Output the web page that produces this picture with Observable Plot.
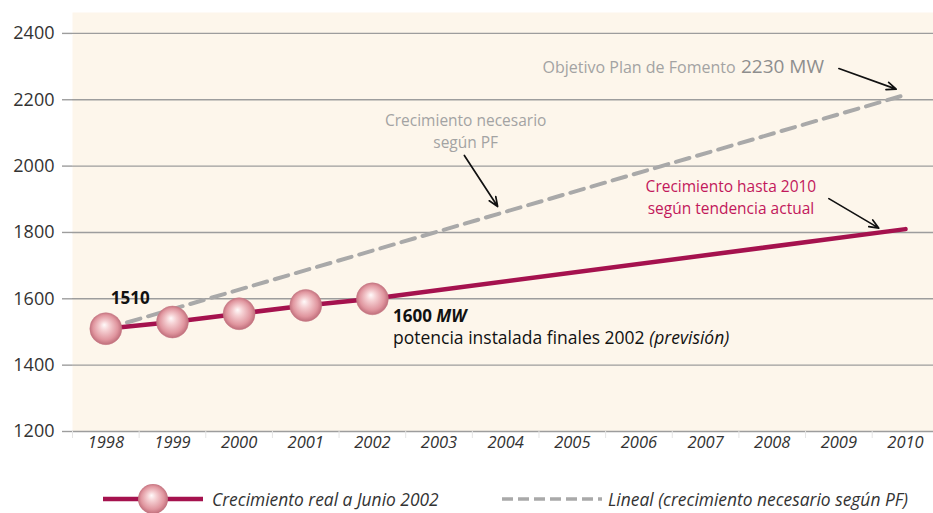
<!DOCTYPE html>
<html>
<head>
<meta charset="utf-8">
<script src="https://cdn.jsdelivr.net/npm/d3@7"></script>
<script src="https://cdn.jsdelivr.net/npm/@observablehq/plot@0.6"></script>
<style>
  html, body { margin: 0; padding: 0; background: #fff; }
  body { font-family: "Open Sans", sans-serif; width: 933px; overflow: hidden; }
  #legend { position: relative; width: 933px; height: 43px; font-style: italic; font-size: 17.4px; color: #333; }
  #legend .item { position: absolute; top: 14px; display: flex; align-items: center; height: 30px; white-space: nowrap; }
  #legend svg { display: block; }
</style>
</head>
<body>
<div id="chart"></div>
<div id="legend"></div>
<script>
// ---- data ----
const years = [1998, 1999, 2000, 2001, 2002, 2003, 2004, 2005, 2006, 2007, 2008, 2009, 2010];
const yTicks = [1200, 1400, 1600, 1800, 2000, 2200, 2400];
const realYears = [1998, 1999, 2000, 2001, 2002];
const realValues = [1510, 1530, 1555, 1580, 1600];
const trendYears = [1998, 1999, 2000, 2001, 2002, 2010];
const trendValues = [1510, 1530, 1555, 1580, 1600, 1810];
const pfYears = [1998, 2010];
const pfValues = [1510, 2215];

const pinkColor = "#a5124e";
const grayDash = "#a9a9a9";

const real = realYears.map((x, i) => ({x, y: realValues[i]}));
const trend = trendYears.map((x, i) => ({x, y: trendValues[i]}));
const pf = pfYears.map((x, i) => ({x, y: pfValues[i]}));
const separators = years.slice(0, -1).map(y => y + 0.5).concat([1997.5]);

// annotations (positions in data units)
const grayNotes = [
  {x: 2003.4, y: 2135, text: "Crecimiento necesario"},
  {x: 2003.4, y: 2071, text: "según PF"}
];
const objetivoLabel = [{x: 2007.45, y: 2297, text: "Objetivo Plan de Fomento"}];
const objetivoValue = [{x: 2007.53, y: 2299, text: "2230 MW"}];
const pinkNotes = [
  {x: 2007.38, y: 1936, text: "Crecimiento hasta 2010"},
  {x: 2007.38, y: 1872, text: "según tendencia actual"}
];
const boldNotes = [
  {x: 1998.075, y: 1600, text: "1510"},
  {x: 2002.31, y: 1547, text: "1600 MW"}
];
const plainNotes = [{x: 2002.31, y: 1480, text: "potencia instalada finales 2002 (previsión)"}];
const arrows = [
  {x1: 2003.38, y1: 2032, x2: 2003.88, y2: 1878},
  {x1: 2009.0, y1: 2294, x2: 2009.86, y2: 2232},
  {x1: 2008.85, y1: 1902, x2: 2009.6, y2: 1813}
];

const chart = Plot.plot({
  width: 933,
  height: 470,
  marginLeft: 72,
  marginRight: 0,
  marginTop: 12,
  marginBottom: 39,
  style: {fontFamily: "'Open Sans', sans-serif", background: "transparent"},
  x: {domain: [1997.5, 2010.42]},
  y: {domain: [1200, 2463]},
  marks: [
    Plot.frame({fill: "#fdf6eb", stroke: null}),
    Plot.gridY(yTicks, {stroke: "#9d9d9d", strokeOpacity: 1, strokeWidth: 1.4}),
    Plot.axisY(yTicks, {tickSize: 10, tickPadding: 8, stroke: "#9d9d9d", strokeWidth: 1.4, fontSize: 18, fill: "#333", tickFormat: d => String(d), label: null}),
    Plot.axisX(separators, {tickSize: 7, stroke: "#e4e4e4", tickFormat: () => "", label: null}),
    Plot.axisX(years, {tickSize: 0, tickPadding: 5, fontSize: 16.5, fontStyle: "italic", fill: "#333", tickFormat: d => String(d), label: null}),
    Plot.line(pf, {x: "x", y: "y", stroke: grayDash, strokeWidth: 4, strokeDasharray: "14,8"}),
    Plot.line(trend, {x: "x", y: "y", stroke: pinkColor, strokeWidth: 4.5}),
    Plot.dot(real, {x: "x", y: "y", r: 16, fill: "url(#ballGrad)", stroke: "#c77a86", strokeWidth: 0.5}),
    Plot.arrow(arrows, {x1: "x1", y1: "y1", x2: "x2", y2: "y2", stroke: "#111", strokeWidth: 1.7, headLength: 9, headAngle: 45}),
    Plot.text(grayNotes, {x: "x", y: "y", text: "text", fill: "#a3a3a3", fontSize: 15.5, textAnchor: "middle"}),
    Plot.text(objetivoLabel, {x: "x", y: "y", text: "text", fill: "#a3a3a3", fontSize: 16, textAnchor: "end"}),
    Plot.text(objetivoValue, {x: "x", y: "y", text: "text", fill: "#8e8e8e", fontSize: 19, textAnchor: "start"}),
    Plot.text(pinkNotes, {x: "x", y: "y", text: "text", fill: "#c2185b", fontSize: 15.5, textAnchor: "middle"}),
    Plot.text(boldNotes, {x: "x", y: "y", text: "text", fill: "#111", fontSize: 17, fontWeight: "bold", textAnchor: "start"}),
    Plot.text(plainNotes, {x: "x", y: "y", text: "text", fill: "#111", fontSize: 17.5, textAnchor: "start"})
  ]
});

// radial gradient for the balls
const svgns = "http://www.w3.org/2000/svg";
const defs = document.createElementNS(svgns, "defs");
defs.innerHTML = `<radialGradient id="ballGrad" cx="50%" cy="50%" r="55%" fx="45%" fy="38%">
  <stop offset="0%" stop-color="#fffafa"/>
  <stop offset="28%" stop-color="#f5cfd2"/>
  <stop offset="70%" stop-color="#e0969f"/>
  <stop offset="100%" stop-color="#b4606e"/>
</radialGradient>`;
chart.insertBefore(defs, chart.firstChild);

// italic parts of annotation text
chart.querySelectorAll("text").forEach(t => {
  if (t.textContent === "1600 MW") {
    t.innerHTML = '1600 <tspan font-style="italic">MW</tspan>';
  } else if (t.textContent === "potencia instalada finales 2002 (previsión)") {
    t.innerHTML = 'potencia instalada finales 2002 <tspan font-style="italic">(previsión)</tspan>';
  }
});

document.getElementById("chart").appendChild(chart);

// legend
const legend = document.getElementById("legend");
legend.innerHTML = `
<div class="item" style="left:103px">
  <svg width="102" height="32" style="margin-right:7px"><defs><radialGradient id="ballGrad2" cx="50%" cy="50%" r="55%" fx="45%" fy="38%">
  <stop offset="0%" stop-color="#fffafa"/><stop offset="28%" stop-color="#f5cfd2"/><stop offset="70%" stop-color="#e0969f"/><stop offset="100%" stop-color="#b4606e"/></radialGradient></defs>
  <line x1="0" x2="100" y1="16" y2="16" stroke="${pinkColor}" stroke-width="4.5"/>
  <circle cx="50" cy="16" r="15" fill="url(#ballGrad2)"/></svg>
  <span>Crecimiento real a Junio 2002</span>
</div>
<div class="item" style="left:502px">
  <svg width="102" height="24" style="margin-right:4px"><line x1="0" x2="100" y1="12" y2="12" stroke="${grayDash}" stroke-width="3.5" stroke-dasharray="11,5"/></svg>
  <span>Lineal (crecimiento necesario según PF)</span>
</div>`;
</script>
</body>
</html>
